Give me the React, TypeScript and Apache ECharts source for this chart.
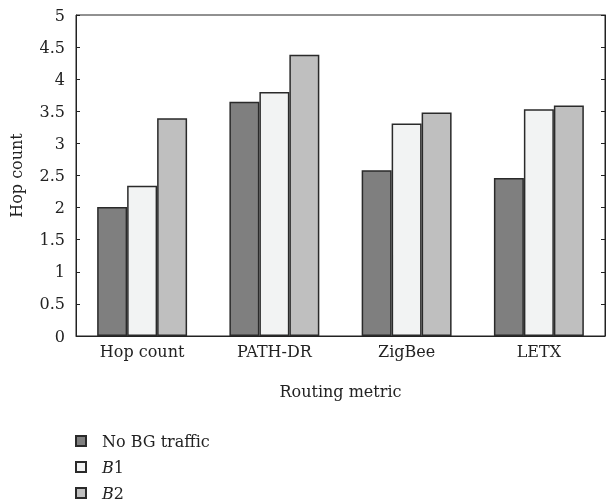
import React, { useEffect, useRef } from "react";
import * as echarts from "echarts";

const categories = ["Hop count", "PATH-DR", "ZigBee", "LETX"];
const noBG = [2.01, 3.65, 2.58, 2.46];
const b1 = [2.34, 3.8, 3.31, 3.53];
const b2 = [3.39, 4.38, 3.48, 3.59];
const seriesNames = ["No BG traffic", "B1", "B2"];
const colors = ["#7f7f7f", "#f2f3f3", "#bfbfbf"];

const FONT = "DejaVu Serif";

export default function App() {
  const ref = useRef<HTMLDivElement>(null);
  useEffect(() => {
    if (!ref.current) return;
    const chart = echarts.init(ref.current, null, { renderer: "svg" });
    const mk = (name: string, data: number[], color: string) => ({
      name,
      type: "bar",
      data,
      barGap: "0%",
      barCategoryGap: "32%",
      itemStyle: { color, borderColor: "#2a2a2a", borderWidth: 1.5 },
    });
    const legendTops = [433, 459, 485];
    const legends = seriesNames.map((n, i) => ({
      orient: "vertical",
      left: 75,
      top: legendTops[i],
      padding: 0,
      itemWidth: 10,
      itemHeight: 10,
      icon: "rect",
      data: [n],
      formatter: (s: string) => (s === "No BG traffic" ? s : "{i|" + s[0] + "}" + s.slice(1)),
      textStyle: {
        fontFamily: FONT,
        fontSize: 16,
        color: "#222",
        padding: [0, 0, 0, 11],
        rich: { i: { fontFamily: FONT, fontSize: 16, fontStyle: "italic", color: "#222" } },
      },
    }));
    chart.setOption({
      animation: false,
      textStyle: { fontFamily: FONT, color: "#222" },
      grid: {
        left: 76,
        right: 1,
        top: 15,
        bottom: 166,
        show: true,
        borderColor: "#222",
        borderWidth: 1,
      },
      legend: legends,
      xAxis: {
        type: "category",
        data: categories,
        name: "Routing metric",
        nameLocation: "middle",
        nameGap: 47,
        nameTextStyle: { fontFamily: FONT, fontSize: 16, color: "#222" },
        axisLine: { show: true, lineStyle: { color: "#222", width: 1 } },
        axisTick: { show: false },
        axisLabel: { fontFamily: FONT, fontSize: 16, color: "#222", margin: 7 },
      },
      yAxis: [
        {
          type: "value",
          min: 0,
          max: 5,
          interval: 0.5,
          name: "Hop count",
          nameLocation: "middle",
          nameGap: 52,
          nameTextStyle: { fontFamily: FONT, fontSize: 16, color: "#222" },
          axisLine: { show: true, lineStyle: { color: "#222" } },
          axisTick: { show: true, inside: true, length: 4, lineStyle: { color: "#222" } },
          axisLabel: { fontFamily: FONT, fontSize: 16, color: "#222", margin: 11 },
          splitLine: { show: false },
        },
        {
          type: "value",
          position: "right",
          min: 0,
          max: 5,
          interval: 0.5,
          axisLine: { show: true, lineStyle: { color: "#222" } },
          axisTick: { show: true, inside: true, length: 4, lineStyle: { color: "#222" } },
          axisLabel: { show: false },
          splitLine: { show: false },
        },
      ],
      series: [mk(seriesNames[0], noBG, colors[0]), mk(seriesNames[1], b1, colors[1]), mk(seriesNames[2], b2, colors[2])],
    });
    return () => chart.dispose();
  }, []);
  return <div ref={ref} style={{ position: "fixed", left: 0, top: 0, width: 606, height: 502 }} />;
}
